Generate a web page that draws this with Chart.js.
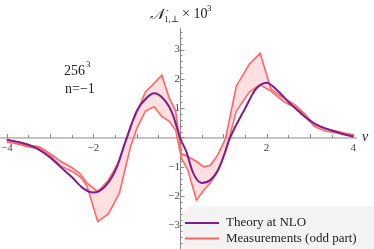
<!DOCTYPE html>
<html><head><meta charset="utf-8">
<script src="https://cdn.jsdelivr.net/npm/chart.js@4.4.1/dist/chart.umd.min.js"></script>
<style>html,body{margin:0;padding:0;background:#fff;}#wrap{width:374px;height:249px;position:relative;}</style>
</head><body><div id="wrap"><canvas id="c"></canvas></div>
<script>
// ---- data ----
const nuTheory = [-4,-3.75,-3.5,-3.25,-3,-2.75,-2.5,-2.25,-2,-1.75,-1.5,-1.25,-1,-0.75,-0.6,-0.4,-0.25,-0.15,0,0.15,0.3,0.5,0.7,0.9,1.16,1.5,1.75,2,2.25,2.5,2.75,3,3.25,3.5,3.75,4];
const theoryNLO = [-0.08,-0.15,-0.25,-0.42,-0.68,-1.02,-1.35,-1.72,-1.88,-1.7,-1.15,-0.1,0.9,1.38,1.51,1.35,1.05,0.71,0,-0.5,-1.2,-1.55,-1.45,-1.05,0,0.98,1.65,1.87,1.6,1.22,0.88,0.57,0.37,0.24,0.12,0.03];
const nuMeas = [-4,-3.75,-3.5,-3.25,-3,-2.75,-2.5,-2.3,-2.15,-1.9,-1.65,-1.4,-1.15,-1,-0.8,-0.6,-0.42,-0.25,-0.1,0.03,0.18,0.38,0.55,0.7,0.85,1.05,1.3,1.6,1.85,2.1,2.4,2.65,2.85,3.1,3.35,3.6,3.8,4];
const measUpper = [-0.08,-0.17,-0.27,-0.32,-0.55,-0.82,-1.02,-1.25,-1.55,-1.85,-1.45,-0.8,0.35,0.85,1.55,1.85,2.12,1.35,0.9,-0.55,-0.65,-0.82,-1.0,-0.95,-0.65,-0.05,1.75,2.5,2.87,1.65,1.34,1.12,0.85,0.45,0.3,0.22,0.15,0.09];
const measLower = [-0.15,-0.22,-0.32,-0.38,-0.62,-0.98,-1.15,-1.35,-1.65,-2.87,-2.6,-1.9,-0.35,0.3,0.9,1.05,0.72,0.55,0.25,-0.7,-1.1,-2.13,-1.79,-1.55,-1.2,-0.5,0.9,1.55,1.8,1.58,1.22,1.03,0.8,0.38,0.22,0.16,0.12,0.05];
const xTickLabels = [-4,-2,2,4];
const yTickLabels = [-3,-2,-1,1,2,3];
const legendLabels = ['Theory at NLO','Measurements (odd part)'];

const PURPLE = '#7f1d8c', RED = '#ff6464', FILL = 'rgba(255,140,140,0.28)';
const SERIF = '"Liberation Serif","DejaVu Serif",serif';
const pts = (xs, ys) => xs.map((x,i)=>({x, y: ys[i]}));
const noPad = s => { s.paddingTop = 0; s.paddingBottom = 0; s.paddingLeft = 0; s.paddingRight = 0; };

const decor = {
  id:'decor',
  beforeDatasetsDraw(chart){
    const {ctx} = chart, sx = chart.scales.x, sy = chart.scales.y;
    const x0 = sx.getPixelForValue(0), y0 = sy.getPixelForValue(0);
    ctx.save();
    ctx.strokeStyle = '#8a8a8a'; ctx.lineWidth = 1;
    // x axis
    ctx.beginPath(); ctx.moveTo(sx.getPixelForValue(-4.16), y0+0.5); ctx.lineTo(sx.getPixelForValue(4.09), y0+0.5); ctx.stroke();
    for (let v=-4; v<=4.001; v+=0.5){ const px=Math.round(sx.getPixelForValue(v))+0.5; const L = (Math.abs(v%1)<1e-6)?4:3;
      ctx.beginPath(); ctx.moveTo(px,y0+0.5); ctx.lineTo(px,y0+0.5-L); ctx.stroke(); }
    // y axis
    ctx.beginPath(); ctx.moveTo(x0+0.5, sy.getPixelForValue(3.74)); ctx.lineTo(x0+0.5, sy.getPixelForValue(-3.82)); ctx.stroke();
    for (let k=-19; k<=18; k++){ const v=k*0.2; const py=Math.round(sy.getPixelForValue(v))+0.5; const L=(k%5===0)?4:2;
      ctx.beginPath(); ctx.moveTo(x0+0.5,py); ctx.lineTo(x0+0.5+L,py); ctx.stroke(); }
    ctx.restore();
  },
  afterDraw(chart){
    const {ctx} = chart;
    ctx.save();
    ctx.fillStyle = '#222';
    ctx.textBaseline = 'alphabetic';
    // title
    ctx.font = 'italic 15px ' + SERIF; ctx.fillText('\u{1D4A9}', 150, 19);
    ctx.font = '9px ' + SERIF; ctx.fillText('1,\u22A5', 164, 22);
    ctx.font = '14px ' + SERIF; ctx.fillText('\u00D7 10', 182, 18);
    ctx.font = '9px ' + SERIF; ctx.fillText('3', 207, 11);
    // annotation
    ctx.font = '14px ' + SERIF; ctx.fillText('256', 64, 75);
    ctx.font = '9px ' + SERIF; ctx.fillText('3', 86, 67);
    ctx.font = '14px ' + SERIF; ctx.fillText('n=\u22121', 65, 93);
    // nu label
    ctx.font = 'italic 14px ' + SERIF; ctx.fillText('\u03BD', 362, 141);
    // legend
    ctx.fillStyle = 'rgba(242,242,242,0.95)';
    ctx.beginPath(); ctx.roundRect(183, 206, 200, 60, 9); ctx.fill();
    ctx.lineWidth = 2;
    ctx.strokeStyle = PURPLE; ctx.beginPath(); ctx.moveTo(185, 223); ctx.lineTo(219, 223); ctx.stroke();
    ctx.strokeStyle = RED; ctx.beginPath(); ctx.moveTo(185, 238.5); ctx.lineTo(219, 238.5); ctx.stroke();
    ctx.fillStyle = '#222'; ctx.font = '13px ' + SERIF;
    ctx.fillText(legendLabels[0], 226, 226);
    ctx.fillText(legendLabels[1], 226, 242);
    ctx.restore();
  }
};

new Chart(document.getElementById('c'), {
  type:'line',
  data:{ datasets:[
    {label:legendLabels[0], data:pts(nuTheory, theoryNLO), borderColor:PURPLE, borderWidth:2, pointRadius:0, cubicInterpolationMode:'monotone', fill:false},
    {label:legendLabels[1], data:pts(nuMeas, measUpper), borderColor:RED, borderWidth:1.6, pointRadius:0, tension:0, fill:'+1', backgroundColor:FILL},
    {label:'lower', data:pts(nuMeas, measLower), borderColor:RED, borderWidth:1.6, pointRadius:0, tension:0, fill:false}
  ]},
  plugins:[decor],
  options:{
    responsive:true, maintainAspectRatio:false, animation:false,
    layout:{padding:0},
    plugins:{legend:{display:false}, tooltip:{enabled:false}},
    scales:{
      x:{type:'linear', min:-4.157, max:4.48, position:{y:0},
         grid:{display:false, drawTicks:false}, border:{display:false},
         afterBuildTicks(s){ s.ticks = xTickLabels.map(v=>({value:v})); },
         afterFit: noPad,
         ticks:{padding:4, color:'#444', font:{family:SERIF, size:11}, maxRotation:0, autoSkip:false,
                callback:v=> v<0 ? '\u2212'+Math.abs(v) : String(v)}},
      y:{type:'linear', min:-3.805, max:4.69, position:{x:0},
         grid:{display:false, drawTicks:false}, border:{display:false},
         afterBuildTicks(s){ s.ticks = yTickLabels.map(v=>({value:v})); },
         afterFit: noPad,
         ticks:{padding:6, color:'#444', font:{family:SERIF, size:11}, autoSkip:false,
                callback:v=> v<0 ? '\u2212'+Math.abs(v) : String(v)}}
    }
  }
});
</script></body></html>
